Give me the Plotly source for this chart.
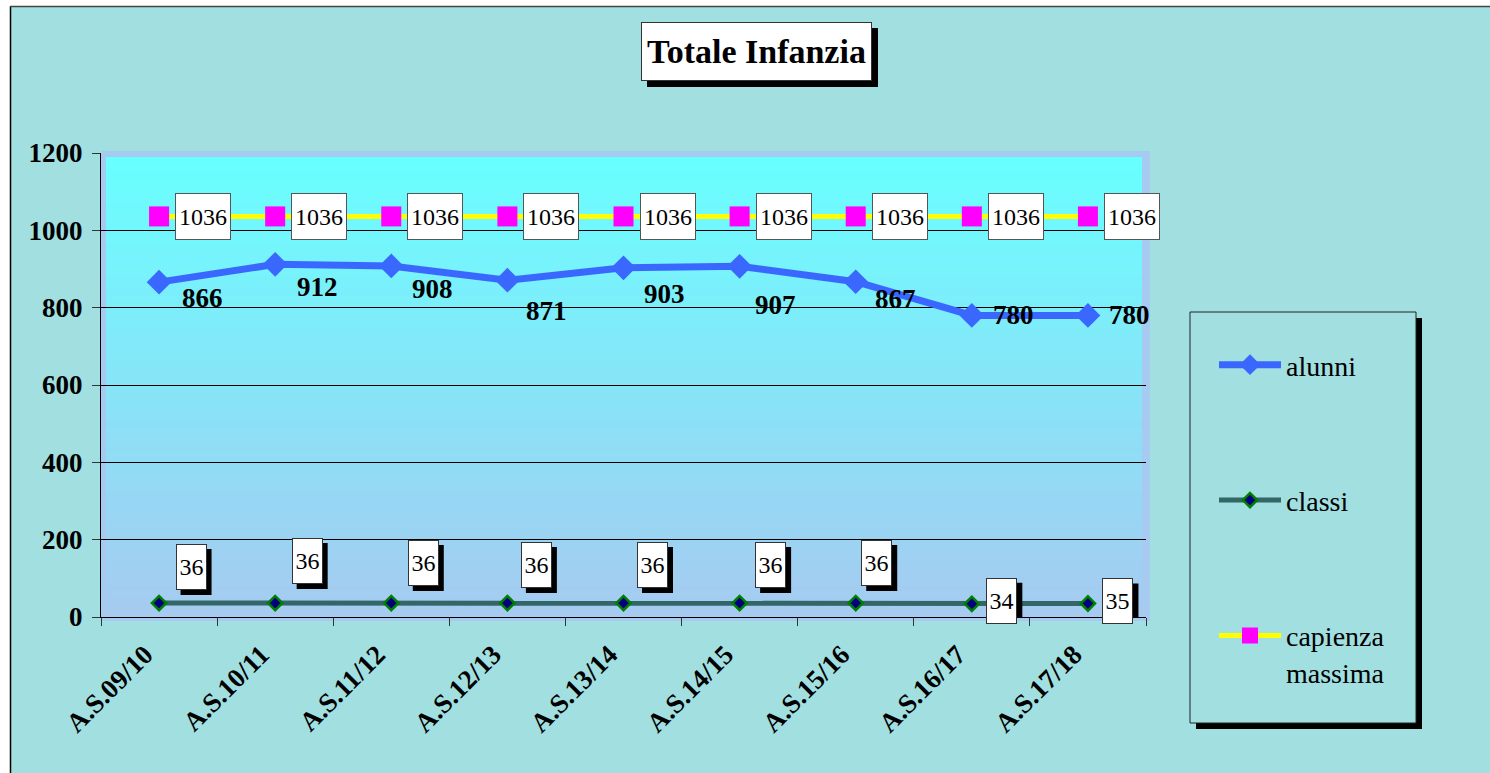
import plotly.graph_objects as go

# ---------------- data ----------------
categories = ["A.S.09/10", "A.S.10/11", "A.S.11/12", "A.S.12/13", "A.S.13/14",
              "A.S.14/15", "A.S.15/16", "A.S.16/17", "A.S.17/18"]
alunni = [866, 912, 908, 871, 903, 907, 867, 780, 780]
classi = [36, 36, 36, 36, 36, 36, 36, 34, 35]
capienza = [1036, 1036, 1036, 1036, 1036, 1036, 1036, 1036, 1036]
y_ticks = [0, 200, 400, 600, 800, 1000, 1200]
title_text = "Totale Infanzia"
series_names = ["alunni", "classi", "capienza<br>massima"]

# ---------------- styling ----------------
FIG_W, FIG_H = 1490, 773
L, R, T, B = 101, 1146, 153, 617          # plot area in pixels
PW, PH = R - L, B - T
FONT = "Liberation Serif"

def px(x):
    return (x - L) / PW

def py(y):
    return (B - y) / PH

# label offsets (pixels, y up)
alunni_lbl_shift = [(43, -16), (42, -23), (41, -23), (39, -31), (41, -26),
                    (36, -39), (40, -17), (42, 0), (42, 0)]
classi_lbl_shift = [(32, 36), (32, 42), (32, 40), (29, 38), (29, 38),
                    (31, 38), (21, 40), (30, 3), (30, 2)]
cap_lbl_shift = (44, 0)

fig = go.Figure()

fig.add_trace(go.Scatter(
    x=categories, y=alunni, name=series_names[0], mode="lines+markers",
    line=dict(color="#3A68FF", width=7),
    marker=dict(symbol="diamond", size=19, color="#3A68FF"),
    legendgroup="a",
))
fig.add_trace(go.Scatter(
    x=categories, y=classi, name=series_names[1], mode="lines+markers",
    line=dict(color="#336666", width=5),
    marker=dict(symbol="diamond", size=11, color="#000080",
                line=dict(color="#008000", width=2.5)),
    legendgroup="b",
))
fig.add_trace(go.Scatter(
    x=categories, y=capienza, name=series_names[2], mode="lines+markers",
    line=dict(color="#FFFF00", width=5),
    marker=dict(symbol="square", size=20, color="#FF00FF"),
    legendgroup="c",
))

shapes = []
# outer chart area
shapes.append(dict(type="rect", xref="paper", yref="paper",
                   x0=px(10), x1=px(1700), y0=py(6), y1=py(900),
                   fillcolor="#A1DFE0", line=dict(width=0),
                   layer="below"))
# outer border: left and top edges only
shapes.append(dict(type="line", xref="paper", yref="paper",
                   x0=px(10.5), x1=px(10.5), y0=py(6), y1=py(900),
                   line=dict(color="black", width=1.5), layer="below"))
shapes.append(dict(type="line", xref="paper", yref="paper",
                   x0=px(10), x1=px(1700), y0=py(6.5), y1=py(6.5),
                   line=dict(color="#444444", width=1.5), layer="below"))
# plot area frame
shapes.append(dict(type="rect", xref="paper", yref="paper",
                   x0=px(101), x1=px(1150), y0=py(153), y1=py(621),
                   fillcolor="#A6CAF0", line=dict(width=0), layer="below"))
# gradient
top_c = (104, 255, 255)
bot_c = (166, 202, 240)
N = 70
g_top, g_bot = 157, 617
for i in range(N):
    y0p = g_bot - (g_bot - g_top) * i / N
    y1p = g_bot - (g_bot - g_top) * (i + 1) / N
    f = (i + 0.5) / N
    c = tuple(round(bot_c[k] + (top_c[k] - bot_c[k]) * f) for k in range(3))
    shapes.append(dict(type="rect", xref="paper", yref="paper",
                       x0=px(106), x1=px(1142), y0=py(y0p + 0.6), y1=py(y1p - 0.6),
                       fillcolor="rgb(%d,%d,%d)" % c, line=dict(width=0),
                       layer="below"))
# top frame strip (hides 1200 gridline)
shapes.append(dict(type="rect", xref="paper", yref="paper",
                   x0=px(102), x1=px(1150), y0=py(151), y1=py(157),
                   fillcolor="#A6CAF0", line=dict(width=0), layer="above"))

# title box shadow
shapes.append(dict(type="rect", xref="paper", yref="paper",
                   x0=px(647), x1=px(878), y0=py(28), y1=py(87),
                   fillcolor="black", line=dict(width=0), layer="above"))
# legend box shadow and box
shapes.append(dict(type="rect", xref="paper", yref="paper",
                   x0=px(1196), x1=px(1422), y0=py(318), y1=py(729),
                   fillcolor="black", line=dict(width=0), layer="above"))
shapes.append(dict(type="rect", xref="paper", yref="paper",
                   x0=px(1190), x1=px(1416), y0=py(312), y1=py(723),
                   fillcolor="#A1DFE0", line=dict(color="#222222", width=1),
                   layer="above"))

annotations = []
annotations.append(dict(
    text="<b>" + title_text + "</b>", xref="paper", yref="paper",
    x=px(756.5), y=py(51.5), xanchor="center", yanchor="middle",
    showarrow=False, font=dict(family=FONT, size=34, color="black"),
    bgcolor="white", bordercolor="#333333", borderwidth=1, borderpad=1,
    width=227, height=55,
))

# alunni labels
for i, (c, v) in enumerate(zip(categories, alunni)):
    dx, dy = alunni_lbl_shift[i]
    annotations.append(dict(
        text="<b>%d</b>" % v, x=c, y=v, xref="x", yref="y",
        xshift=dx, yshift=dy, showarrow=False,
        font=dict(family=FONT, size=27, color="black"),
    ))

# capienza labels (white boxes)
for c, v in zip(categories, capienza):
    dx, dy = cap_lbl_shift
    annotations.append(dict(
        text="%d" % v, x=c, y=v, xref="x", yref="y",
        xshift=dx, yshift=dy, showarrow=False,
        font=dict(family=FONT, size=24, color="black"),
        bgcolor="white", bordercolor="#555555", borderwidth=1, borderpad=1,
        width=52, height=43,
    ))

# classi labels (white boxes with shadow)
BW, BH, SH = 31, 46, 5
for i, (c, v) in enumerate(zip(categories, classi)):
    dx, dy = classi_lbl_shift[i]
    shapes.append(dict(
        type="rect", xref="x", yref="y",
        xsizemode="pixel", ysizemode="pixel", xanchor=c, yanchor=v,
        x0=dx - BW / 2 + SH, x1=dx + BW / 2 + SH,
        y0=dy - BH / 2 - SH, y1=dy + BH / 2 - SH,
        fillcolor="black", line=dict(width=0), layer="above",
    ))
    annotations.append(dict(
        text="%d" % v, x=c, y=v, xref="x", yref="y",
        xshift=dx, yshift=dy, showarrow=False,
        font=dict(family=FONT, size=24, color="black"),
        bgcolor="white", bordercolor="#333333", borderwidth=1, borderpad=1,
        width=BW - 4, height=BH - 4,
    ))

fig.update_layout(
    width=FIG_W, height=FIG_H,
    margin=dict(l=L, r=FIG_W - R, t=T, b=FIG_H - B, pad=0),
    paper_bgcolor="white", plot_bgcolor="rgba(0,0,0,0)",
    font=dict(family=FONT, color="black"),
    shapes=shapes, annotations=annotations,
    showlegend=True,
    legend=dict(
        x=px(1214), y=py(340), xanchor="left", yanchor="top",
        bgcolor="rgba(0,0,0,0)", borderwidth=0,
        font=dict(family=FONT, size=28, color="black"),
        tracegroupgap=96, valign="top", itemwidth=62,
    ),
    xaxis=dict(
        type="category", range=[-0.5, 8.5], tickangle=-45,
        tickson="boundaries", ticks="outside", ticklen=8, tickcolor="#333333",
        showline=True, linecolor="black", linewidth=1,
        showgrid=False, zeroline=False,
        ticklabelshift=-14, ticklabelstandoff=10,
        tickfont=dict(family=FONT, size=27, color="black", weight="bold"),
    ),
    yaxis=dict(
        range=[0, 1200], tickvals=y_ticks, ticks="outside", ticklen=8,
        tickcolor="#333333",
        showline=True, linecolor="black", linewidth=1,
        showgrid=True, gridcolor="black", gridwidth=1, zeroline=False,
        ticklabelstandoff=4,
        tickfont=dict(family=FONT, size=27, color="black", weight="bold"),
    ),
)

fig.write_html("out.html", config={"displayModeBar": False},
               post_script="document.body.style.margin='0px';")
